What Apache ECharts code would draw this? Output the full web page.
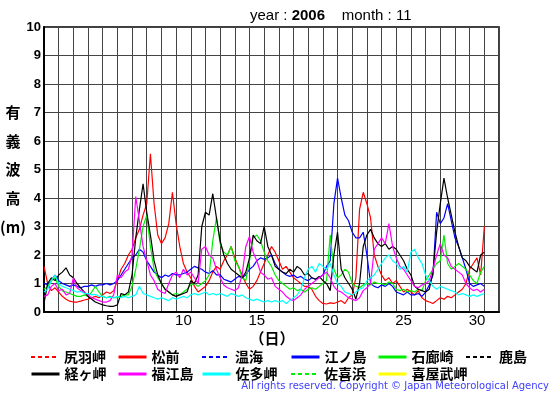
<!DOCTYPE html>
<html><head><meta charset="utf-8">
<script src="https://cdn.jsdelivr.net/npm/echarts@6/dist/echarts.min.js"></script>
<style>html,body{margin:0;padding:0;background:#fff}#c{width:555px;height:395px}</style>
</head><body><div id="c"></div>
<script>
// ---- data ----
const dayLabels = ['1','2','3','4','5','6','7','8','9','10','11','12','13','14','15','16','17','18','19','20','21','22','23','24','25','26','27','28','29','30','31'];
const yMin = 0, yMax = 10, yInterval = 1;
const STEP_DAYS = 0.25; // one value every 6 hours from Nov 1 00:00

const stationNames = ['尻羽岬','松前','温海','江ノ島','石廊崎','鹿島','経ヶ岬','福江島','佐多岬','佐喜浜','喜屋武岬'];

const shiriha = [];
const matsumae = [
1.6,1.0,0.75,0.85, 0.7,0.55,0.45,0.38, 0.35,0.35,0.38,0.42, 0.45,0.5,0.55,0.5, 0.6,0.7,0.65,0.75,
1.1,1.5,1.7,2.0, 2.2,2.6,2.9,3.4, 3.8,5.55,3.8,2.7, 2.4,2.6,3.1,4.2, 3.1,2.3,1.7,1.4,
1.2,0.9,0.7,0.8, 0.9,1.1,1.4,1.6, 1.5,1.8,2.0,2.3, 1.9,1.6,1.3,1.0, 0.8,0.9,1.1,1.4,
1.7,2.0,2.3,2.1, 1.8,1.5,1.6,1.4, 1.2,1.1,1.0,0.9, 0.9,0.8,0.55,0.4, 0.3,0.28,0.32,0.3,
0.35,0.4,0.3,0.5, 0.6,1.2,3.6,4.2, 3.8,3.3,2.0,1.6, 1.3,1.1,1.2,1.0, 1.1,0.9,0.7,0.8,
0.7,0.6,0.75,0.5, 0.4,0.35,0.3,0.4, 0.5,0.45,0.55,0.5, 0.6,0.7,0.8,1.0, 1.5,1.7,1.9,1.3,
3.0];
const atsumi = [];
const enoshima = [
1.0,0.95,1.1,1.3, 1.1,1.0,0.95,0.9, 0.95,0.9,0.85,0.9, 0.9,0.95,0.9,0.95, 0.95,1.0,0.95,1.0,
1.1,1.3,1.5,1.7, 1.9,2.0,2.2,2.1, 1.8,1.6,1.4,1.3, 1.2,1.3,1.25,1.35, 1.3,1.3,1.35,1.4,
1.5,1.6,1.55,1.5, 1.4,1.35,1.45,1.3, 1.3,1.15,1.1,1.05, 1.15,1.25,1.2,1.3, 1.5,1.6,1.8,1.9,
1.85,1.9,2.0,1.7, 1.5,1.4,1.3,1.25, 1.3,1.2,1.25,1.15, 1.1,1.2,1.15,1.2, 1.3,1.6,1.8,3.8,
4.7,4.0,3.4,3.2, 2.8,2.6,2.6,2.8, 2.0,1.0,0.9,0.85, 0.95,0.9,1.0,0.9, 0.7,0.65,0.6,0.7,
0.6,0.6,0.65,0.55, 0.7,0.95,1.3,3.5, 3.1,3.3,3.8,3.2, 2.6,2.3,1.9,1.5, 1.0,0.9,0.95,1.0,
0.9];
const irozaki = [
0.8,0.9,1.1,1.2, 0.9,0.75,0.7,0.65, 0.6,0.55,0.55,0.6, 0.55,0.7,0.9,0.7, 0.55,0.5,0.55,0.5,
0.5,0.55,0.6,0.6, 0.9,1.5,2.2,3.0, 3.4,2.3,1.5,1.2, 1.0,0.8,0.7,0.6, 0.65,0.6,0.7,0.8,
0.95,1.0,0.9,1.0, 1.1,1.3,2.5,3.3, 2.4,2.1,2.0,2.3, 1.8,1.6,1.2,1.1, 1.8,2.6,2.7,2.5,
2.1,1.8,1.6,1.3, 1.1,1.0,0.9,0.8, 0.85,0.75,0.8,0.7, 0.8,0.85,0.8,0.9, 1.0,1.1,2.7,1.5,
1.2,1.3,1.5,1.4, 1.0,0.9,0.85,0.95, 1.0,0.95,1.05,1.0, 1.0,0.95,1.05,1.0, 0.8,0.75,0.8,0.7,
0.75,0.7,0.8,0.75, 1.1,1.3,1.5,1.7, 1.8,2.7,1.7,1.5, 1.6,1.7,1.6,1.5, 1.3,1.1,1.0,1.4,
1.6];
const kashima = [];
const kyogamisaki = [
0.3,1.0,1.2,1.1, 1.3,1.4,1.55,1.3, 1.2,1.0,0.85,0.7, 0.55,0.45,0.35,0.3, 0.25,0.22,0.2,0.2,
0.25,0.65,0.6,0.7, 1.3,2.6,3.6,4.5, 3.5,2.7,1.8,1.3, 1.0,0.8,0.7,0.6, 0.55,0.6,0.65,0.7,
1.1,1.0,1.3,3.0, 3.5,3.4,4.15,3.3, 2.5,2.0,1.7,1.5, 1.4,1.3,1.2,1.4, 1.9,2.7,2.5,2.4,
3.0,2.3,2.0,1.6, 1.5,1.4,1.35,1.5, 1.4,1.6,1.5,1.3, 1.35,1.2,1.15,1.25, 1.1,1.0,0.75,2.0,
2.8,1.5,1.2,1.0, 0.8,0.45,1.0,2.3, 2.7,2.9,2.6,2.4, 2.3,2.4,2.2,2.3, 2.2,2.0,1.8,1.5,
1.3,0.9,0.8,0.75, 0.7,0.8,1.4,2.8, 3.8,4.7,4.0,3.4, 2.8,2.3,1.9,1.8, 1.6,1.5,1.4,2.0,
2.1];
const fukue = [
0.55,0.6,0.9,1.0, 0.75,0.8,0.6,0.65, 1.2,0.85,0.75,0.7, 0.6,0.5,0.45,0.4, 0.35,0.35,0.4,0.6,
1.3,1.2,1.4,1.5, 2.0,4.05,3.2,2.3, 1.8,1.3,1.1,0.8, 0.7,0.65,1.0,1.3, 1.4,1.2,1.5,1.3,
1.4,1.2,1.0,2.2, 2.3,2.0,1.9,1.5, 1.2,0.95,0.85,0.8, 0.75,0.85,1.3,2.3, 2.65,2.1,1.8,1.4,
1.3,1.15,1.2,0.9, 0.8,0.7,0.55,0.45, 0.4,0.5,0.6,0.8, 0.9,1.0,1.1,1.2, 1.3,1.4,1.2,0.9,
0.75,0.7,0.6,0.5, 0.45,0.4,0.5,0.75, 0.85,1.0,2.2,2.4, 2.6,2.4,3.1,2.3, 1.9,1.6,1.5,1.3,
1.1,0.9,0.85,0.95, 1.0,1.1,1.5,2.0, 2.4,2.0,1.9,1.6, 1.5,1.4,1.3,1.0, 0.85,0.75,0.8,0.7,
0.8];
const satamisaki = [
0.7,0.8,1.1,1.3, 1.0,0.9,0.85,0.8, 0.75,0.7,0.72,0.65, 0.65,0.6,0.62,0.55, 0.55,0.5,0.52,0.5,
0.55,0.5,0.55,0.5, 0.55,0.6,0.9,0.65, 0.6,0.55,0.5,0.45, 0.5,0.45,0.4,0.5, 0.45,0.5,0.55,0.5,
0.6,0.65,0.6,0.65, 0.7,0.6,0.65,0.6, 0.65,0.6,0.55,0.65, 0.6,0.55,0.6,0.5, 0.45,0.4,0.45,0.4,
0.35,0.4,0.35,0.4, 0.35,0.4,0.3,0.4, 0.5,0.6,0.8,1.2, 1.5,1.6,1.4,1.7, 1.6,1.5,1.7,1.3,
1.0,0.9,0.7,0.65, 0.6,0.7,0.8,0.85, 1.1,1.2,1.3,1.5, 1.7,1.9,2.0,1.8, 1.7,1.5,1.6,1.4,
2.1,2.2,1.9,1.7, 1.3,1.1,0.9,0.8, 0.9,0.85,0.8,0.75, 0.7,0.6,0.65,0.6, 0.55,0.6,0.55,0.6,
0.65];
const sakihama = [];
const kyan = [];

const seriesValues = [shiriha, matsumae, atsumi, enoshima, irozaki, kashima, kyogamisaki, fukue, satamisaki, sakihama, kyan];

// ---- styles / layout ----
const seriesColors = ['#ff0000','#ff0000','#0000ff','#0000ff','#00ee00','#000000','#000000','#ff00ff','#00ffff','#00ee00','#ffff00'];
const seriesDashed = [true,false,true,false,false,true,false,false,false,true,false];
const legendPos = [[30,350],[117,350],[201,350],[290,350],[377,350],[465,350],
                   [30,367],[117,367],[201,367],[290,367],[377,367]];

const chart = echarts.init(document.getElementById('c'), null, {renderer:'canvas'});

const series = seriesValues.map((vals, i) => ({
  name: stationNames[i],
  type: 'line',
  xAxisIndex: 1,
  yAxisIndex: 0,
  data: vals.map((v, k) => [k * STEP_DAYS, v]),
  symbol: 'none',
  showSymbol: false,
  animation: false,
  lineStyle: { color: seriesColors[i], width: 1.2, type: seriesDashed[i] ? [4,3] : 'solid' },
  itemStyle: { color: seriesColors[i] },
  emphasis: { disabled: true }
}));

const legends = stationNames.map((n, i) => ({
  data: [n],
  left: legendPos[i][0],
  top: legendPos[i][1],
  padding: 0,
  itemWidth: 28,
  itemHeight: 14,
  itemGap: 0,
  selectedMode: false,
  textStyle: { color: '#000', fontSize: 14, fontWeight: 'bold', fontFamily: 'Noto Sans CJK JP' },
  itemStyle: { color: 'rgba(0,0,0,0)', borderColor: 'rgba(0,0,0,0)', borderWidth: 0 },
  lineStyle: { width: seriesDashed[i] ? 2 : 3 }
}));

const cjk = 'Noto Sans CJK JP';
const yNameChars = ['有','義','波','高','(m)'];
const yNameY = [112, 141, 169, 198, 227];

const graphics = yNameChars.map((c, i) => ({
  type: 'text', x: 13, y: yNameY[i],
  style: { text: c, fill: '#000', font: 'bold 15px "' + cjk + '"', align: 'center', verticalAlign: 'middle' }
}));
graphics.push({
  type: 'text', x: 250, y: 16,
  style: {
    text: '{a|year : }{b|2006}{a|    month : 11}',
    rich: {
      a: { fontSize: 15, fontFamily: 'Liberation Sans', fill: '#000' },
      b: { fontSize: 15, fontFamily: 'Liberation Sans', fill: '#000', fontWeight: 'bold' }
    },
    verticalAlign: 'middle'
  }
});
graphics.push({
  type: 'text', x: 272, y: 338,
  style: { text: '（日）', fill: '#000', font: 'bold 15px "' + cjk + '"', align: 'center', verticalAlign: 'middle' }
});
graphics.push({
  type: 'text', x: 549, y: 386,
  style: { text: 'All rights reserved. Copyright © Japan Meteorological Agency', fill: '#4040ff',
           font: '10px "DejaVu Sans"', align: 'right', verticalAlign: 'middle' }
});

chart.setOption({
  animation: false,
  backgroundColor: '#fff',
  grid: { left: 44, top: 27, width: 455, height: 285, show: true, borderColor: '#000', borderWidth: 1.5,
          containLabel: false, outerBoundsMode: 'none' },
  xAxis: [
    { type: 'category', data: dayLabels, boundaryGap: true, position: 'bottom',
      axisLine: { show: true, lineStyle: { color: '#000', width: 2 } },
      axisTick: { show: false },
      axisLabel: { interval: 0, color: '#000', fontSize: 15, margin: 1, fontFamily: 'Liberation Sans',
                   formatter: v => (Number(v) % 5 === 0 && Number(v) <= 30) ? v : '' },
      splitLine: { show: true, interval: 0, lineStyle: { color: '#444', width: 1 } } },
    { type: 'value', min: 0, max: dayLabels.length, show: false }
  ],
  yAxis: [{ type: 'value', min: yMin, max: yMax, interval: yInterval,
    axisLine: { show: true, lineStyle: { color: '#000', width: 2 } },
    axisTick: { show: false },
    axisLabel: { color: '#000', fontSize: 13, fontWeight: 'bold', margin: 3, fontFamily: 'Liberation Sans' },
    splitLine: { show: true, lineStyle: { color: '#444', width: 1 } } }],
  legend: legends,
  graphic: graphics,
  series: series
});
</script></body></html>
